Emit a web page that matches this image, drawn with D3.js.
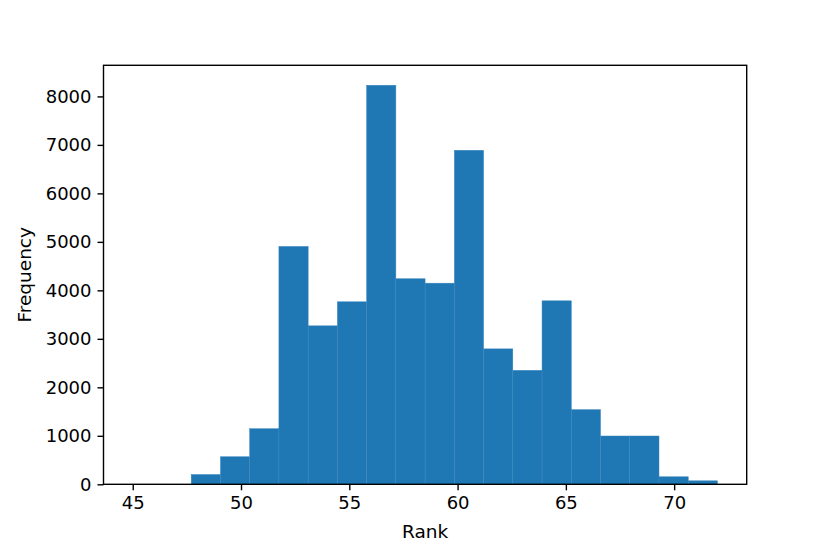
<!DOCTYPE html>
<html>
<head>
<meta charset="utf-8">
<script src="https://cdn.jsdelivr.net/npm/d3@7"></script>
<style>
  body { margin: 0; background: #fff; }
  svg { display: block; }
  .axis text { font-family: "DejaVu Sans", sans-serif; font-size: 18px; fill: #000; }
  .axis path, .axis line { stroke: #000; stroke-width: 1.4; }
  .axis-label { font-family: "DejaVu Sans", sans-serif; font-size: 18.5px; fill: #000; }
</style>
</head>
<body>
<svg id="chart" width="830" height="554"></svg>
<script>
// histogram bins (edges) and counts
const binEdges = [45, 46.35, 47.7, 49.05, 50.4, 51.75, 53.1, 54.45, 55.8, 57.15, 58.5,
  59.85, 61.2, 62.55, 63.9, 65.25, 66.6, 67.95, 69.3, 70.65, 72];
const counts = [2, 0, 202, 568, 1146, 4906, 3268, 3764, 8230, 4239, 4148,
  6889, 2793, 2351, 3784, 1539, 996, 996, 155, 72];
const xTicks = [45, 50, 55, 60, 65, 70];
const yTicks = [0, 1000, 2000, 3000, 4000, 5000, 6000, 7000, 8000];

const margin = { top: 65.3, right: 83.3, bottom: 69.7, left: 103.5 };
const width = 830 - margin.left - margin.right;
const height = 554 - margin.top - margin.bottom;

const bins = counts.map((c, i) => ({ x0: binEdges[i], x1: binEdges[i + 1], value: c }));

// matplotlib-like 5% margins on x, top on y
const lo = binEdges[0], hi = binEdges[binEdges.length - 1];
const pad = (hi - lo) * 0.05;
const xScale = d3.scaleLinear().domain([lo - pad, hi + pad]).range([0, width]);
const yScale = d3.scaleLinear().domain([0, d3.max(counts) * 1.05]).range([height, 0]);

const svg = d3.select("#chart")
  .append("g")
  .attr("transform", `translate(${margin.left},${margin.top})`);

svg.append("g")
  .selectAll("rect")
  .data(bins)
  .join("rect")
  .attr("x", (d) => xScale(d.x0))
  .attr("width", (d) => xScale(d.x1) - xScale(d.x0))
  .attr("y", (d) => yScale(d.value))
  .attr("height", (d) => height - yScale(d.value))
  .attr("fill", "#1f77b4")
  .attr("stroke", "#3a88be")
  .attr("stroke-width", 0.5);

svg.append("g")
  .attr("class", "axis axis__x")
  .attr("transform", `translate(0,${height})`)
  .call(d3.axisBottom(xScale).tickValues(xTicks).tickFormat(d3.format("d"))
    .tickSize(6).tickPadding(6).tickSizeOuter(0))
  .call((g) => g.select(".domain").remove());

svg.append("g")
  .attr("class", "axis axis__y")
  .call(d3.axisLeft(yScale).tickValues(yTicks).tickFormat(d3.format("d"))
    .tickSize(6).tickPadding(6).tickSizeOuter(0))
  .call((g) => g.select(".domain").remove());

// spines
svg.append("rect")
  .attr("x", 0)
  .attr("y", 0)
  .attr("width", width)
  .attr("height", height)
  .attr("fill", "none")
  .attr("stroke", "#000")
  .attr("stroke-width", 1.4);

svg.append("text")
  .attr("class", "axis-label")
  .attr("text-anchor", "middle")
  .attr("x", width / 2)
  .attr("y", height + 54)
  .text("Rank");

svg.append("text")
  .attr("class", "axis-label")
  .attr("text-anchor", "middle")
  .attr("transform", `translate(${31 - margin.left},${height / 2}) rotate(-90)`)
  .text("Frequency");
</script>
</body>
</html>
